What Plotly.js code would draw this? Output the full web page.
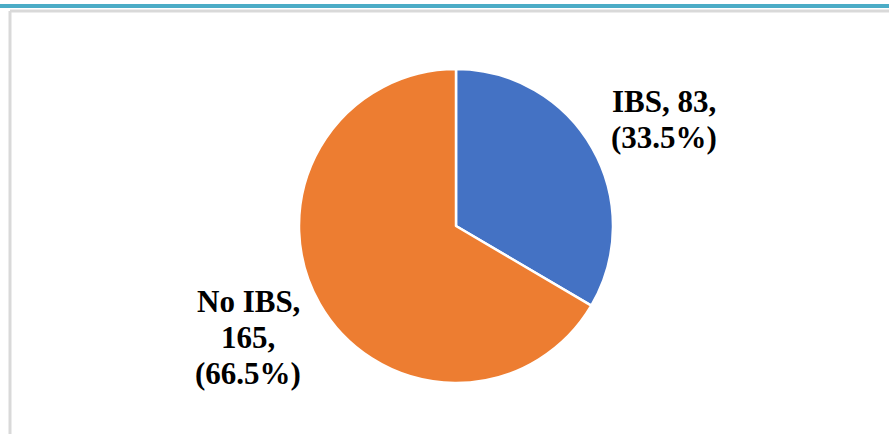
<!DOCTYPE html>
<html>
<head>
<meta charset="utf-8">
<script src="https://cdn.plot.ly/plotly-3.0.1.min.js"></script>
<style>html,body{margin:0;padding:0;background:#fff;}#chart{width:889px;height:434px;}</style>
</head>
<body>
<div id="chart"></div>
<script>
const categories = ["IBS", "No IBS"];
const counts = [83, 165];
const percents = ["33.5%", "66.5%"];
const colors = ["#4472C4", "#ED7D31"];
// label lines for each slice
const labelLines = [
  [categories[0] + ", " + counts[0] + ",", "(" + percents[0] + ")"],
  [categories[1] + ",", counts[1] + ",", "(" + percents[1] + ")"]
];
// label anchor positions (paper fractions) for each label block: centre x, top-line y
const labelPos = [
  {x: 0.747, y: 0.765},
  {x: 0.279, y: 0.305}
];

const W = 889, H = 434;
const cx = 456, cy = 226, r = 157;

const annotations = [];
const lineGap = 36 / H;
labelLines.forEach((lines, i) => {
  lines.forEach((t, j) => {
    annotations.push({
      xref: 'paper', yref: 'paper',
      x: labelPos[i].x, y: labelPos[i].y - j * lineGap,
      xanchor: 'center', yanchor: 'middle',
      text: '<b>' + t + '</b>', showarrow: false,
      font: {family: 'Liberation Serif', size: 31, color: '#000'}
    });
  });
});

const data = [{
  type: 'pie',
  labels: categories,
  values: counts,
  sort: false,
  direction: 'clockwise',
  rotation: 0,
  textinfo: 'none',
  hoverinfo: 'label+value+percent',
  marker: {colors: colors, line: {color: '#ffffff', width: 2.5}},
  domain: {x: [(cx - r) / W, (cx + r) / W], y: [(H - cy - r) / H, (H - cy + r) / H]},
  showlegend: false
}];

const layout = {
  width: W, height: H,
  margin: {l: 0, r: 0, t: 0, b: 0},
  paper_bgcolor: '#ffffff',
  showlegend: false,
  annotations: annotations,
  shapes: [
    {type: 'rect', xref: 'paper', yref: 'paper', x0: 0, x1: 1, y0: 1 - 4/H, y1: 1 - 8/H,
     fillcolor: '#4BACC6', line: {width: 0}, layer: 'above'},
    {type: 'line', xref: 'paper', yref: 'paper', x0: 10/W, x1: 1, y0: 1 - 11/H, y1: 1 - 11/H,
     line: {color: '#D9D9D9', width: 3}},
    {type: 'line', xref: 'paper', yref: 'paper', x0: 10/W, x1: 10/W, y0: 0, y1: 1 - 11/H,
     line: {color: '#D9D9D9', width: 3}}
  ]
};

Plotly.newPlot('chart', data, layout, {displayModeBar: false, staticPlot: true});
</script>
</body>
</html>
